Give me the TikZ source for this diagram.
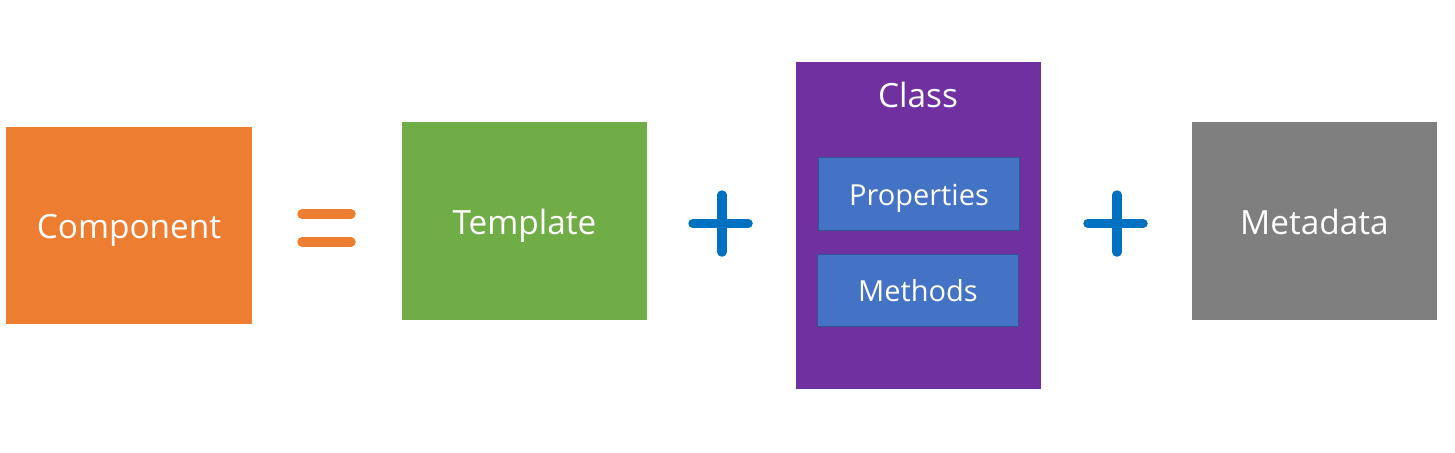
\documentclass[tikz,border=0pt]{standalone}
\usepackage{fontspec}
\setmainfont{Open Sans}
\usetikzlibrary{positioning}
\definecolor{compOrange}{HTML}{ED7D31}
\definecolor{tmplGreen}{HTML}{70AD47}
\definecolor{classPurple}{HTML}{7030A0}
\definecolor{memberBlue}{HTML}{4472C4}
\definecolor{memberEdge}{HTML}{2F5597}
\definecolor{metaGray}{HTML}{7F7F7F}
\definecolor{plusBlue}{HTML}{0070C0}

\begin{document}
\begin{tikzpicture}[x=0.02cm,y=-0.02cm,
  box/.style={shape=rectangle,inner sep=0pt,text=white,font=\fontsize{19}{23}\selectfont,
    text height=15.3pt,text depth=0pt,minimum width=4.92cm,minimum height=3.96cm},
  member/.style={shape=rectangle,inner sep=0pt,text=white,fill=memberBlue,draw=memberEdge,
    line width=0.8pt,font=\fontsize{16.5}{20}\selectfont,text height=13pt,text depth=0pt,
    minimum width=4.02cm,minimum height=1.45cm},
  sign/.style={line width=0.19cm,line cap=round}]

\useasboundingbox (0,0) rectangle (1455,453);

\node[box,fill=compOrange,minimum height=3.94cm] (component) at (129,225.5){Component};
\node[box,fill=tmplGreen] (template) at (524.5,221){Template};
\node[box,fill=classPurple,minimum height=6.54cm] (class) at (918.5,225.5){};
\node[text=white,font=\fontsize{19}{23}\selectfont] (classname) at (918,95){Class};
\node[member] (props) at (919,194){Properties};
\node[member] (methods) at (918,290.5){Methods};
\node[box,fill=metaGray] (metadata) at (1314.5,221){Metadata};

% equals sign
\draw[sign,compOrange] (302,214) -- (351,214);
\draw[sign,compOrange] (302,242) -- (351,242);

% plus signs
\draw[sign,plusBlue] (693,223.5) -- (748,223.5);
\draw[sign,plusBlue] (722,195) -- (722,252);
\draw[sign,plusBlue] (1088,223.5) -- (1143,223.5);
\draw[sign,plusBlue] (1117,195) -- (1117,252);

\end{tikzpicture}
\end{document}
